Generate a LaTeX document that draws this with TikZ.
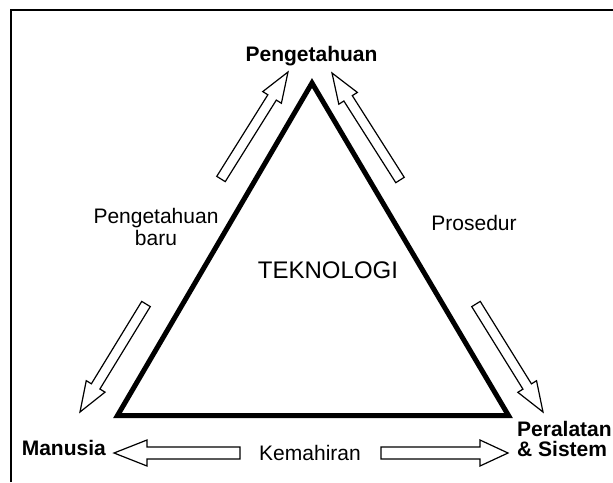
\documentclass[tikz,border=0pt]{standalone}
\usepackage{fontspec}
\setmainfont{Liberation Sans}
\usetikzlibrary{calc}

\begin{document}
\begin{tikzpicture}[x=1pt,y=-1pt,
  lbl/.style={font=\fontsize{21}{22}\selectfont, align=center, inner sep=0pt},
  corner/.style={font=\fontsize{21}{20}\selectfont\bfseries, inner sep=0pt},
  harrow/.style={draw, line width=1.2pt, fill=white, line join=miter}]
\useasboundingbox (0,0) rectangle (613,482);
% frame
\draw[line width=1.5pt] (11,482) -- (11,10) -- (613,10);
% triangle
\coordinate (top) at (312,83);
\coordinate (left) at (117.5,415.5);
\coordinate (right) at (508.5,415.5);
\draw[line width=5pt, line join=miter] (top) -- (right) -- (left) -- cycle;
\node[font=\fontsize{24}{24}\selectfont, inner sep=0pt, anchor=base] (tek) at (328,278) {TEKNOLOGI};
% corners
\node[corner, anchor=base] (know) at (311.5,61) {Pengetahuan};
\node[corner, anchor=base east] (man) at (106,455) {Manusia};
\node[corner, anchor=base west, align=left] (tool) at (517,456) {Peralatan\\\& Sistem};
% side labels
\node[lbl, anchor=base] (newk) at (156,245) {Pengetahuan\\baru};
\node[lbl, anchor=base] (proc) at (474,230) {Prosedur};
\node[lbl, anchor=base] (skill) at (310,460) {Kemahiran};
% hollow arrows
\coordinate (ult) at (221,179); \coordinate (ulh) at (288,72);
\coordinate (urt) at (400,180); \coordinate (urh) at (332,73);
\coordinate (llt) at (146,304); \coordinate (llh) at (80,412);
\coordinate (lrt) at (476,304); \coordinate (lrh) at (543,412);
\coordinate (blt) at (240,453); \coordinate (blh) at (114,453);
\coordinate (brt) at (381,453); \coordinate (brh) at (508,453);
\foreach \from/\to/\sw/\hw/\hl in {ult/ulh/5pt/11pt/30pt, urt/urh/5pt/11pt/30pt,
    llt/llh/5pt/11pt/30pt, lrt/lrh/5pt/11pt/30pt,
    blt/blh/6pt/13pt/33pt, brt/brh/6pt/13pt/28pt}
{
  \coordinate (s) at ($(\to)!\hl!(\from)$);
  \draw[harrow] ($(\from)!\sw!90:(\to)$) -- ($(s)!\sw!90:(\to)$) -- ($(s)!\hw!90:(\to)$) -- (\to)
    -- ($(s)!\hw!-90:(\to)$) -- ($(s)!\sw!-90:(\to)$) -- ($(\from)!\sw!-90:(\to)$) -- cycle;
}
\end{tikzpicture}
\end{document}
